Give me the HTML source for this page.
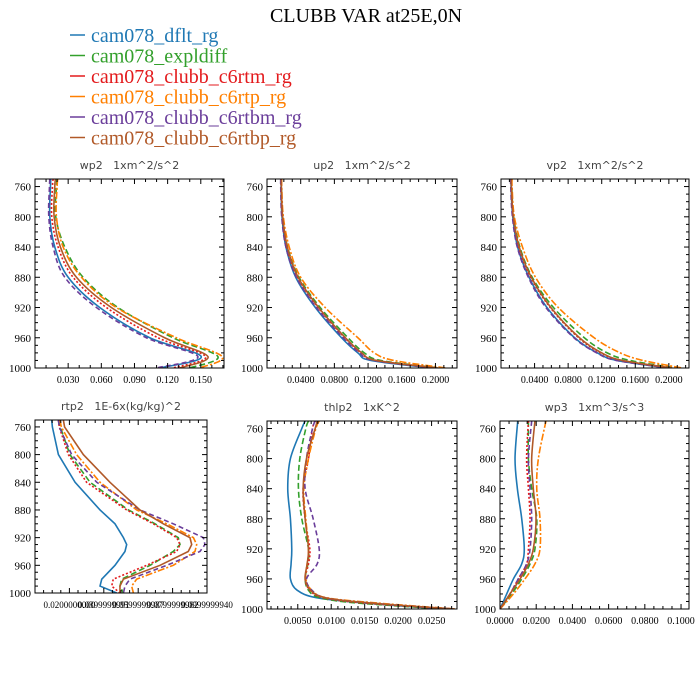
<!DOCTYPE html>
<html><head><meta charset="utf-8">
<style>
html,body{margin:0;padding:0;background:#fff;}
svg{display:block;}
</style></head>
<body>
<svg id="fig" width="700" height="700" viewBox="0 0 700 700" xmlns="http://www.w3.org/2000/svg">
<text x="366" y="22" text-anchor="middle" font-family="Liberation Serif, serif" font-size="20" fill="#000">CLUBB VAR at25E,0N</text>
<g id="legend"></g>
<g id="panels"></g>
</svg>
<script>
const seriesNames = ["cam078_dflt_rg","cam078_expldiff","cam078_clubb_c6rtm_rg","cam078_clubb_c6rtp_rg","cam078_clubb_c6rtbm_rg","cam078_clubb_c6rtbp_rg"];
const seriesColors = ["#1f78b4","#33a02c","#e31a1c","#ff7f00","#6a3d9a","#b15928"];
const seriesDash = ["", "6,3", "2,2", "7,2,2,2", "5,3", ""];

// wp2
const wp2Levels = [750,760,800,840,880,920,960,985,1000];
const wp2Blue   = [0.0143,0.0140,0.0134,0.0179,0.0300,0.0586,0.1038,0.1504,0.1128];
const wp2Green  = [0.0200,0.0194,0.0188,0.0270,0.0435,0.0751,0.1248,0.1655,0.1399];
const wp2Red    = [0.0164,0.0158,0.0152,0.0209,0.0345,0.0646,0.1113,0.1544,0.1248];
const wp2Orange = [0.0206,0.0200,0.0194,0.0255,0.0420,0.0736,0.1279,0.1694,0.1489];
const wp2Purple = [0.0134,0.0131,0.0125,0.0164,0.0270,0.0556,0.1008,0.1474,0.1098];
const wp2Brown  = [0.0185,0.0179,0.0173,0.0230,0.0375,0.0691,0.1173,0.1565,0.1309];
const wp2Ticks = ["0.030","0.060","0.090","0.120","0.150"];

// up2
const up2Levels = [750,760,800,840,880,920,960,980,990,1000];
const up2Blue   = [0.0167,0.0167,0.0178,0.0225,0.0341,0.0574,0.0885,0.1079,0.1234,0.1971];
const up2Green  = [0.0171,0.0171,0.0186,0.0244,0.0380,0.0632,0.0962,0.1156,0.1350,0.2049];
const up2Red    = [0.0167,0.0167,0.0182,0.0233,0.0361,0.0605,0.0923,0.1117,0.1292,0.2010];
const up2Orange = [0.0175,0.0175,0.0194,0.0264,0.0400,0.0691,0.1079,0.1273,0.1505,0.2126];
const up2Purple = [0.0163,0.0163,0.0175,0.0225,0.0349,0.0586,0.0904,0.1098,0.1265,0.1990];
const up2Brown  = [0.0171,0.0171,0.0186,0.0241,0.0369,0.0613,0.0931,0.1125,0.1300,0.2029];
const up2Ticks = ["0.0400","0.0800","0.1200","0.1600","0.2000"];

// vp2
const vp2Levels = [750,760,800,840,880,920,960,980,990,1000];
const vp2Blue   = [0.0120,0.0120,0.0140,0.0198,0.0334,0.0547,0.0877,0.1148,0.1381,0.2002];
const vp2Green  = [0.0128,0.0128,0.0151,0.0225,0.0372,0.0625,0.0993,0.1265,0.1536,0.2080];
const vp2Red    = [0.0124,0.0124,0.0144,0.0210,0.0353,0.0586,0.0923,0.1187,0.1439,0.2041];
const vp2Orange = [0.0132,0.0132,0.0159,0.0256,0.0411,0.0683,0.1110,0.1420,0.1692,0.2157];
const vp2Purple = [0.0116,0.0116,0.0136,0.0194,0.0326,0.0535,0.0869,0.1141,0.1374,0.2002];
const vp2Brown  = [0.0124,0.0124,0.0147,0.0217,0.0361,0.0594,0.0935,0.1199,0.1447,0.2041];
const vp2Ticks = ["0.0400","0.0800","0.1200","0.1600","0.2000"];

// rtp2
const rtp2Levels = [750,760,800,840,880,900,920,930,940,960,980,990,1000];
const rtp2Blue   = [0.0097,0.0101,0.0136,0.0233,0.0378,0.0465,0.0514,0.0533,0.0523,0.0465,0.0388,0.0378,0.0475];
const rtp2Green  = [0.0141,0.0147,0.0203,0.0320,0.0543,0.0698,0.0833,0.0843,0.0804,0.0669,0.0504,0.0494,0.0514];
const rtp2Red    = [0.0136,0.0141,0.0194,0.0300,0.0533,0.0688,0.0824,0.0843,0.0824,0.0649,0.0455,0.0446,0.0494];
const rtp2Orange = [0.0145,0.0153,0.0242,0.0378,0.0591,0.0766,0.0921,0.0940,0.0930,0.0804,0.0591,0.0562,0.0572];
const rtp2Purple = [0.0136,0.0141,0.0213,0.0359,0.0610,0.0804,0.0979,0.0988,0.0959,0.0766,0.0552,0.0523,0.0514];
const rtp2Brown  = [0.0165,0.0172,0.0281,0.0436,0.0610,0.0746,0.0901,0.0911,0.0891,0.0727,0.0514,0.0494,0.0494];
const rtp2Ticks = ["0.0200000000","0.0399999991","0.0599999987","0.0799999982","0.0999999940"];

// thlp2
const thlp2Levels = [750,760,800,840,880,920,940,960,975,985,992,1000];
const thlp2Blue   = [0.0061,0.0056,0.0039,0.0035,0.0039,0.0041,0.0040,0.0039,0.0049,0.0078,0.0148,0.0267];
const thlp2Green  = [0.0066,0.0062,0.0053,0.0051,0.0056,0.0066,0.0065,0.0061,0.0066,0.0083,0.0138,0.0272];
const thlp2Red    = [0.0076,0.0072,0.0066,0.0058,0.0061,0.0068,0.0066,0.0061,0.0068,0.0088,0.0148,0.0277];
const thlp2Orange = [0.0082,0.0077,0.0066,0.0059,0.0062,0.0066,0.0064,0.0062,0.0071,0.0093,0.0168,0.0286];
const thlp2Purple = [0.0076,0.0072,0.0063,0.0061,0.0073,0.0082,0.0079,0.0063,0.0071,0.0091,0.0158,0.0282];
const thlp2Brown  = [0.0079,0.0076,0.0063,0.0058,0.0061,0.0066,0.0064,0.0061,0.0069,0.0091,0.0158,0.0284];
const thlp2Ticks = ["0.0050","0.0100","0.0150","0.0200","0.0250"];

// wp3
const wp3Levels = [750,800,840,880,920,940,960,980,1000];
const wp3Blue   = [0.0098,0.0083,0.0096,0.0120,0.0134,0.0120,0.0074,0.0037,0];
const wp3Green  = [0.0157,0.0157,0.0175,0.0203,0.0193,0.0166,0.0120,0.0064,0];
const wp3Red    = [0.0157,0.0147,0.0157,0.0166,0.0157,0.0147,0.0101,0.0055,0];
const wp3Orange = [0.0254,0.0212,0.0203,0.0221,0.0221,0.0193,0.0138,0.0074,0];
const wp3Purple = [0.0175,0.0157,0.0166,0.0175,0.0166,0.0147,0.0101,0.0055,0];
const wp3Brown  = [0.0193,0.0175,0.0184,0.0199,0.0184,0.0157,0.0111,0.0055,0];
const wp3Ticks = ["0.0000","0.0200","0.0400","0.0600","0.0800","0.1000"];

const yTickLabels = ["760","800","840","880","920","960","1000"];

const NS = "http://www.w3.org/2000/svg";
function mk(tag, attrs, parent){ const e=document.createElementNS(NS,tag); for(const k in attrs) e.setAttribute(k,attrs[k]); parent.appendChild(e); return e; }

// legend
const leg = document.getElementById('legend');
seriesNames.forEach((n,i)=>{
  const y = 35 + i*20.5;
  const g = mk('g',{},leg);
  
  
  mk('line',{x1:70,y1:y,x2:85,y2:y,stroke:seriesColors[i],'stroke-width':1.5},g);
  const t = mk('text',{x:91,y:y+7,fill:seriesColors[i],'font-family':'Liberation Serif, serif','font-size':20},g);
  t.textContent = n;
});

const panels = [
 {name:'wp2', title:'wp2   1xm^2/s^2', L:35,R:224,T:179,B:368, xmin:0, xmax:0.171, ymin:750, ymax:1000, ticks:[0.03,0.06,0.09,0.12,0.15], labels:wp2Ticks, minor:0.01, lv:wp2Levels, data:[wp2Blue,wp2Green,wp2Red,wp2Orange,wp2Purple,wp2Brown], lin:false, fs:10},
 {name:'up2', title:'up2   1xm^2/s^2', L:267,R:457,T:179,B:368, xmin:0, xmax:0.2256, ymin:750, ymax:1000, ticks:[0.04,0.08,0.12,0.16,0.2], labels:up2Ticks, minor:0.01, lv:up2Levels, data:[up2Blue,up2Green,up2Red,up2Orange,up2Purple,up2Brown], lin:false, fs:10},
 {name:'vp2', title:'vp2   1xm^2/s^2', L:501,R:689,T:179,B:368, xmin:0, xmax:0.224, ymin:750, ymax:1000, ticks:[0.04,0.08,0.12,0.16,0.2], labels:vp2Ticks, minor:0.01, lv:vp2Levels, data:[vp2Blue,vp2Green,vp2Red,vp2Orange,vp2Purple,vp2Brown], lin:false, fs:10},
 {name:'rtp2', title:'rtp2   1E-6x(kg/kg)^2', L:35,R:207,T:420,B:593, xmin:0, xmax:0.1, ymin:750, ymax:1000, ticks:[0.02,0.04,0.06,0.08,0.1], labels:rtp2Ticks, minor:0.005, lv:rtp2Levels, data:[rtp2Blue,rtp2Green,rtp2Red,rtp2Orange,rtp2Purple,rtp2Brown], lin:true, fs:9},
 {name:'thlp2', title:'thlp2   1xK^2', L:267,R:457,T:421,B:609, xmin:0.0004, xmax:0.0288, ymin:750, ymax:1000, ticks:[0.005,0.01,0.015,0.02,0.025], labels:thlp2Ticks, minor:0.001, lv:thlp2Levels, data:[thlp2Blue,thlp2Green,thlp2Red,thlp2Orange,thlp2Purple,thlp2Brown], lin:false, fs:10},
 {name:'wp3', title:'wp3   1xm^3/s^3', L:500,R:689,T:421,B:609, xmin:0, xmax:0.1044, ymin:750, ymax:1000, ticks:[0,0.02,0.04,0.06,0.08,0.1], labels:wp3Ticks, minor:0.005, lv:wp3Levels, data:[wp3Blue,wp3Green,wp3Red,wp3Orange,wp3Purple,wp3Brown], lin:false, fs:10}
];

function smoothPath(pts){
  if(pts.length<3) return 'M'+pts.map(p=>p.join(',')).join('L');
  let d='M'+pts[0][0].toFixed(2)+','+pts[0][1].toFixed(2);
  for(let i=0;i<pts.length-1;i++){
    const p0=pts[Math.max(i-1,0)],p1=pts[i],p2=pts[i+1],p3=pts[Math.min(i+2,pts.length-1)];
    const c1=[p1[0]+(p2[0]-p0[0])/6,p1[1]+(p2[1]-p0[1])/6];
    const c2=[p2[0]-(p3[0]-p1[0])/6,p2[1]-(p3[1]-p1[1])/6];
    d+='C'+c1[0].toFixed(2)+','+c1[1].toFixed(2)+' '+c2[0].toFixed(2)+','+c2[1].toFixed(2)+' '+p2[0].toFixed(2)+','+p2[1].toFixed(2);
  }
  return d;
}

const root = document.getElementById('panels');
panels.forEach(p=>{
  const g = mk('g',{},root);
  
  
  const xs = v => p.L + (v-p.xmin)/(p.xmax-p.xmin)*(p.R-p.L);
  const ys = v => p.T + (v-p.ymin)/(p.ymax-p.ymin)*(p.B-p.T);
  const tt = mk('text',{x:(p.L+p.R)/2,y:p.T-10,'text-anchor':'middle','font-family':'DejaVu Sans, sans-serif','font-size':11,fill:'#444','xml:space':'preserve'},g);
  tt.style.whiteSpace='pre';
  tt.textContent = p.title;
  
  
  // clip
  const cid = 'clip-'+p.name;
  const cp = mk('clipPath',{id:cid},g);
  mk('rect',{x:p.L,y:p.T,width:p.R-p.L,height:p.B-p.T},cp);
  const lines = mk('g',{'clip-path':'url(#'+cid+')'},g);
  p.data.forEach((arr,i)=>{
    const pts = arr.map((v,k)=>[xs(v), ys(p.lv[k])]);
    const d = p.lin ? 'M'+pts.map(q=>q[0].toFixed(2)+','+q[1].toFixed(2)).join('L') : smoothPath(pts);
    const path = mk('path',{d:d,fill:'none',stroke:seriesColors[i],'stroke-width':1.6,'stroke-dasharray':seriesDash[i]},lines);
    
    
  });
  // frame
  const fr = mk('rect',{x:p.L,y:p.T,width:p.R-p.L,height:p.B-p.T,fill:'none',stroke:'#000','stroke-width':1},g);
  
  
  // y ticks
  for(let v=750; v<=1000; v+=10){
    const y = ys(v); const major = (v-760)%40===0 && v>=760;
    const len = major?5:3;
    mk('line',{x1:p.L,y1:y,x2:p.L+len,y2:y,stroke:'#000','stroke-width':1},g);
    mk('line',{x1:p.R,y1:y,x2:p.R-len,y2:y,stroke:'#000','stroke-width':1},g);
  }
  yTickLabels.forEach(s=>{
    const v=+s;
    const t = mk('text',{x:p.L-4,y:ys(v)+4,'text-anchor':'end','font-family':'Liberation Serif, serif','font-size':11,fill:'#000'},g);
    t.textContent = s;
    
    
  });
  // x ticks
  const n0 = Math.ceil(p.xmin/p.minor-1e-6);
  for(let k=n0; k*p.minor<=p.xmax+1e-9; k++){
    const v=k*p.minor; const x=xs(v);
    const major = p.ticks.some(t=>Math.abs(t-v)<1e-9);
    const len = major?5:3;
    mk('line',{x1:x,y1:p.B,x2:x,y2:p.B-len,stroke:'#000','stroke-width':1},g);
    mk('line',{x1:x,y1:p.T,x2:x,y2:p.T+len,stroke:'#000','stroke-width':1},g);
  }
  p.ticks.forEach((v,i)=>{
    const t = mk('text',{x:xs(v),y:p.B+15,'text-anchor':'middle','font-family':'Liberation Serif, serif','font-size':p.fs,fill:'#000'},g);
    t.textContent = p.labels[i];
    
    
  });
});
</script>
</body></html>
